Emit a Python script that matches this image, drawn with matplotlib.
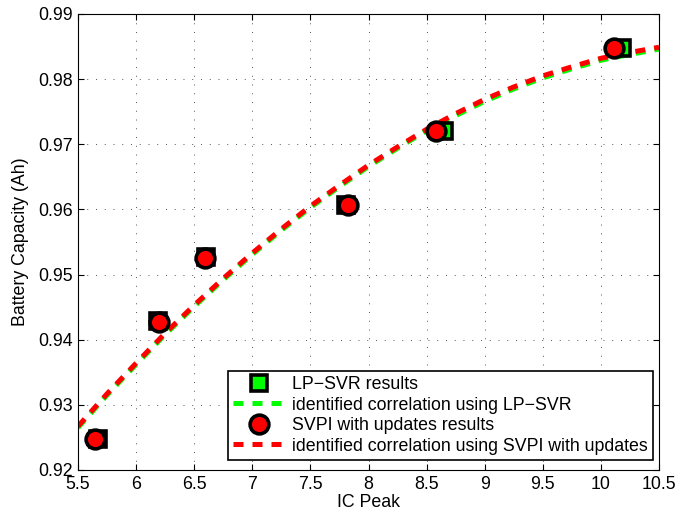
import matplotlib
matplotlib.use("Agg")
import matplotlib.pyplot as plt
import numpy as np

plt.rcParams['font.family'] = ['Liberation Sans', 'DejaVu Sans']

# Data points
lp_x = [5.67, 6.19, 6.60, 7.81, 8.65, 10.18]
lp_y = [0.9247, 0.9428, 0.9527, 0.9607, 0.9721, 0.9848]
svpi_x = [5.65, 6.20, 6.59, 7.82, 8.58, 10.11]
svpi_y = [0.9248, 0.9427, 0.9526, 0.9607, 0.9721, 0.9848]

# Fitted correlation curves
curve_x = [5.5, 5.75, 6.0, 6.25, 6.5, 6.75, 7.0, 7.25, 7.5, 7.75, 8.0,
           8.25, 8.5, 8.75, 9.0, 9.25, 9.5, 9.75, 10.0, 10.25, 10.5]
svpi_curve = [0.9267, 0.9317, 0.9364, 0.9410, 0.9453, 0.9494, 0.9533, 0.9570,
              0.9605, 0.9637, 0.9668, 0.9696, 0.9723, 0.9747, 0.9769, 0.9788,
              0.9805, 0.9819, 0.9832, 0.9841, 0.9849]
lp_curve = [0.9265, 0.9315, 0.9362, 0.9408, 0.9451, 0.9492, 0.9531, 0.9568,
            0.9603, 0.9635, 0.9666, 0.9694, 0.9721, 0.9744, 0.9766, 0.9785,
            0.9802, 0.9816, 0.9829, 0.9838, 0.9846]

xticks = [5.5, 6, 6.5, 7, 7.5, 8, 8.5, 9, 9.5, 10, 10.5]
xticklabels = ['5.5', '6', '6.5', '7', '7.5', '8', '8.5', '9', '9.5', '10', '10.5']
yticks = [0.92, 0.93, 0.94, 0.95, 0.96, 0.97, 0.98, 0.99]
yticklabels = ['0.92', '0.93', '0.94', '0.95', '0.96', '0.97', '0.98', '0.99']

FS = 12.8

fig = plt.figure(figsize=(6.94, 5.21), dpi=100)
ax = fig.add_axes([78 / 694, 51 / 521, 581 / 694, 456 / 521])

ax.plot(lp_x, lp_y, linestyle='none', marker='s', markersize=11,
        markerfacecolor='#00ff00', markeredgecolor='black', markeredgewidth=2.6,
        label='LP\u2212SVR results', zorder=3)
ax.plot(curve_x, lp_curve, color='#00ff00', linewidth=3.6, dashes=(2.0, 1.8),
        label='identified correlation using LP\u2212SVR', zorder=2)
ax.plot(svpi_x, svpi_y, linestyle='none', marker='o', markersize=13.5,
        markerfacecolor='#ff0000', markeredgecolor='black', markeredgewidth=2.6,
        label='SVPI with updates results', zorder=4)
ax.plot(curve_x, svpi_curve, color='#ff0000', linewidth=3.6, dashes=(2.0, 1.8),
        label='identified correlation using SVPI with updates', zorder=2.5)

ax.set_xlim(5.5, 10.5)
ax.set_ylim(0.92, 0.99)
ax.set_xticks(xticks)
ax.set_xticklabels(xticklabels)
ax.set_yticks(yticks)
ax.set_yticklabels(yticklabels)
ax.tick_params(direction='in', top=True, right=True, labelsize=FS, length=4, width=0.8, pad=4)
ax.grid(True, color='#555555', linestyle=(0, (1, 8)), linewidth=0.7)
for s in ax.spines.values():
    s.set_linewidth(0.8)

ax.set_xlabel('IC Peak', fontsize=FS, labelpad=1)
ax.set_ylabel('Battery Capacity (Ah)', fontsize=FS, labelpad=6)

leg = ax.legend(loc='lower right', bbox_to_anchor=(0.99, 0.022), fontsize=FS,
                frameon=True, fancybox=False, handlelength=2.9, handletextpad=0.4,
                borderpad=0.3, labelspacing=0.2, borderaxespad=0, framealpha=1)
leg.get_frame().set_edgecolor('black')
leg.get_frame().set_linewidth(1.2)

fig.savefig('out.png', dpi=100)
